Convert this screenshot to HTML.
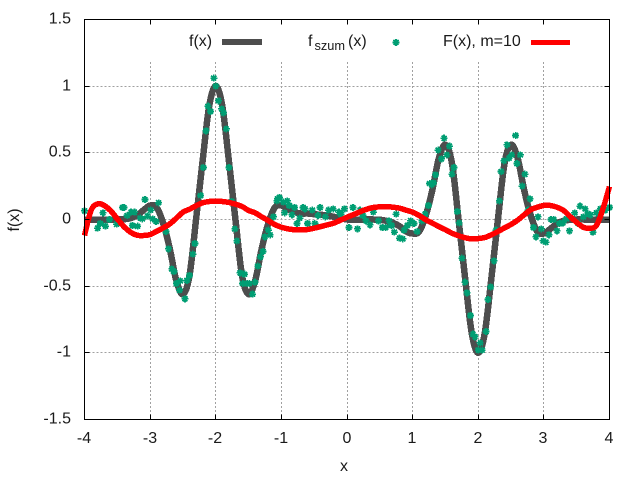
<!DOCTYPE html>
<html>
<head>
<meta charset="utf-8">
<title>f(x) chart</title>
<style>
html,body{margin:0;padding:0;background:#fff;width:640px;height:480px;overflow:hidden}
svg{display:block}
text{font-family:"Liberation Sans",sans-serif;font-size:16px;fill:#1a1a1a}
</style>
</head>
<body>
<svg id="chart" width="640" height="480" viewBox="0 0 640 480" xmlns="http://www.w3.org/2000/svg">
  <rect width="640" height="480" fill="#fff"/>
  <g id="grid"></g>
  <g id="series"></g>
  <g id="frame"></g>
  <g id="labels"></g>
  <text x="344" y="471" text-anchor="middle">x</text>
  <text transform="translate(19,220) rotate(-90)" text-anchor="middle">f(x)</text>
  <g>
    <text x="189" y="46">f(x)</text>
    <rect x="222" y="39" width="40" height="6" fill="#4d4d4d"/>
    <text x="308" y="46">f<tspan dx="2" dy="4" style="font-size:12.8px">szum</tspan><tspan dx="3" dy="-4">(x)</tspan></text>
    <path d="M392.500 42.500h7M396 39v7M393.500 40l5 5M393.500 45l5-5" stroke="#009e73" stroke-width="1.800" fill="none" shape-rendering="crispEdges"/>
    <text x="443" y="46">F(x), m=10</text>
    <rect x="531" y="40" width="39" height="5" fill="#ff0000"/>
  </g>
</svg>
<script>
const gridX = [-4,-3.9,-3.8,-3.7,-3.6,-3.5,-3.4,-3.3,-3.2,-3.1,-3,-2.9,-2.8,-2.7,-2.6,-2.5,-2.4,-2.3,-2.2,-2.1,-2,-1.9,-1.8,-1.7,-1.6,-1.5,-1.4,-1.3,-1.2,-1.1,-1,-0.9,-0.8,-0.7,-0.6,-0.5,-0.4,-0.3,-0.2,-0.1,0,0.1,0.2,0.3,0.4,0.5,0.6,0.7,0.8,0.9,1,1.1,1.2,1.3,1.4,1.5,1.6,1.7,1.8,1.9,2,2.1,2.2,2.3,2.4,2.5,2.6,2.7,2.8,2.9,3,3.1,3.2,3.3,3.4,3.5,3.6,3.7,3.8,3.9,4];
const fValues = [0,0,0,0,0,0,0.002,0.01,0.03,0.07,0.105,0.09,-0.03,-0.22,-0.46,-0.56,-0.42,0,0.44,0.85,1,0.85,0.44,0,-0.42,-0.56,-0.46,-0.22,-0.03,0.09,0.105,0.075,0.055,0.045,0.045,0.04,0.035,0.03,0.02,0.01,0,0,0,0,0,-0.002,-0.01,-0.025,-0.05,-0.09,-0.105,-0.09,0.03,0.22,0.46,0.56,0.42,0,-0.44,-0.85,-1,-0.85,-0.44,0,0.42,0.56,0.46,0.22,0.03,-0.09,-0.105,-0.07,-0.03,-0.01,-0.002,0,0,0,0,0,0];
const fitValues = [-0.12,0.0675,0.117,0.105,0.065,0.005,-0.053,-0.095,-0.118,-0.12,-0.113,-0.088,-0.063,-0.033,0.01,0.055,0.077,0.103,0.125,0.135,0.137,0.135,0.128,0.115,0.098,0.068,0.05,0.02,-0.008,-0.038,-0.058,-0.07,-0.077,-0.077,-0.075,-0.065,-0.053,-0.04,-0.027,-0.005,0.017,0.037,0.058,0.077,0.09,0.095,0.097,0.092,0.085,0.07,0.055,0.03,-0.002,-0.027,-0.053,-0.077,-0.103,-0.122,-0.137,-0.145,-0.143,-0.135,-0.115,-0.09,-0.063,-0.037,-0.005,0.035,0.073,0.092,0.105,0.105,0.092,0.068,0.022,-0.022,-0.058,-0.065,-0.045,0.08,0.247];
const noiseX = [-4,-3.8,-3.76,-3.72,-3.68,-3.62,-3.51,-3.42,-3.4,-3.35,-3.29,-3.27,-3.24,-3.19,-3.15,-3.12,-3.08,-3.04,-2.99,-2.96,-2.91,-2.87,-2.76,-2.72,-2.67,-2.64,-2.6,-2.55,-2.54,-2.47,-2.44,-2.4,-2.35,-2.32,-2.23,-2.19,-2.15,-2.12,-2.08,-2.03,-2,-1.96,-1.91,-1.88,-1.84,-1.8,-1.76,-1.71,-1.68,-1.63,-1.59,-1.56,-1.52,-1.49,-1.44,-1.4,-1.36,-1.32,-1.28,-1.25,-1.2,-1.17,-1.12,-1.07,-1.06,-1.03,-0.97,-0.95,-0.91,-0.88,-0.84,-0.8,-0.76,-0.72,-0.67,-0.64,-0.6,-0.53,-0.49,-0.44,-0.41,-0.33,-0.28,-0.21,-0.12,-0.09,-0.04,0.03,0.09,0.16,0.2,0.24,0.29,0.35,0.4,0.48,0.54,0.59,0.64,0.68,0.72,0.75,0.8,0.85,0.87,0.92,0.97,1.02,1.07,1.14,1.19,1.24,1.26,1.29,1.32,1.35,1.39,1.44,1.48,1.52,1.56,1.6,1.63,1.68,1.71,1.75,1.8,1.83,1.88,1.92,1.95,2,2.03,2.06,2.12,2.15,2.19,2.24,2.27,2.32,2.35,2.39,2.44,2.47,2.51,2.57,2.59,2.64,2.67,2.71,2.76,2.79,2.84,2.88,2.91,2.96,2.99,3.03,3.08,3.11,3.15,3.2,3.24,3.29,3.34,3.39,3.47,3.52,3.55,3.6,3.63,3.67,3.71,3.75,3.8,3.86,3.93,4];
const noiseY = [0.065,-0.065,-0.03,0.05,-0.05,0,-0.035,0.09,0.09,0.03,0.055,-0.045,0.055,-0.05,0.01,0.005,0.15,0.025,0.07,0.005,-0.015,0.125,-0.09,-0.22,-0.37,-0.39,-0.48,-0.53,-0.46,-0.595,-0.457,-0.42,-0.26,-0.18,0.18,0.39,0.665,0.85,0.81,1.06,1,0.89,0.83,0.8,0.68,0.39,0.135,-0.07,-0.16,-0.4,-0.48,-0.41,-0.48,-0.48,-0.56,-0.47,-0.35,-0.28,-0.24,-0.13,-0.08,-0.115,0.02,0.14,0.155,0.165,0.13,0.05,0.14,0.105,0.035,0.09,-0.03,0.01,0.09,0.08,-0.03,0.07,-0.03,0.03,0.09,0.02,0.07,0.08,0.055,0.04,0.08,-0.06,0.09,-0.07,0.07,0.03,-0.01,-0.04,0.055,-0.01,-0.06,-0.06,-0.01,-0.045,-0.095,0.04,-0.14,-0.145,-0.08,-0.045,-0.01,-0.03,-0.09,-0.01,0.04,0.105,0.27,0.26,0.275,0.335,0.52,0.455,0.61,0.485,0.55,0.34,0.39,0.06,-0.025,-0.29,-0.47,-0.55,-0.72,-0.86,-0.88,-0.98,-0.925,-0.98,-0.84,-0.6,-0.505,-0.31,-0.08,0.14,0.36,0.44,0.56,0.46,0.485,0.63,0.42,0.485,0.25,0.34,0.07,0.155,-0.06,-0.13,0.02,-0.07,-0.16,-0.17,-0.115,0,0,-0.085,-0.03,-0.025,0.005,-0.085,0.05,-0.03,0.1,0.02,0.08,0.045,0.035,-0.095,0.05,0.08,0.07,0.09];
const xTicks = [-4,-3,-2,-1,0,1,2,3,4];
const yTicks = [-1.5,-1,-0.5,0,0.5,1,1.5];

const NS = 'http://www.w3.org/2000/svg';
const PLOT = {left:84.5, right:609.5, top:19.5, bottom:419.5};
const KEY_BOTTOM = 62;
const xDomain = [-4,4];
const yDomain = [-1.5,1.5];
function sx(v){ return PLOT.left + (v - xDomain[0]) / (xDomain[1] - xDomain[0]) * (PLOT.right - PLOT.left); }
function sy(v){ return PLOT.bottom - (v - yDomain[0]) / (yDomain[1] - yDomain[0]) * (PLOT.bottom - PLOT.top); }
function mk(tag, parent, attrs){
  const el = document.createElementNS(NS, tag);
  for (const k in attrs) el.setAttribute(k, attrs[k]);
  parent.appendChild(el);
  return el;
}
function splinePath(xs, ys){
  const p = xs.map((x,i)=>[sx(x), sy(ys[i])]);
  let d = 'M' + p[0][0].toFixed(2) + ' ' + p[0][1].toFixed(2);
  for (let i = 0; i < p.length - 1; i++){
    const a = p[Math.max(i-1,0)], b = p[i], c = p[i+1], e = p[Math.min(i+2,p.length-1)];
    const c1x = b[0] + (c[0]-a[0])/6, c1y = b[1] + (c[1]-a[1])/6;
    const c2x = c[0] - (e[0]-b[0])/6, c2y = c[1] - (e[1]-b[1])/6;
    d += 'C' + [c1x,c1y,c2x,c2y,c[0],c[1]].map(n=>n.toFixed(2)).join(' ');
  }
  return d;
}
const grid = document.getElementById('grid');
const frame = document.getElementById('frame');
const labels = document.getElementById('labels');
const series = document.getElementById('series');

xTicks.forEach(function(t){
  const x = Math.round(sx(t) - 0.5) + 0.5;
  if (t > xDomain[0] && t < xDomain[1]) {
    const g = mk('line', grid, {x1:x, x2:x, y1:KEY_BOTTOM, y2:PLOT.bottom, stroke:'#a0a0a0', 'stroke-width':1, 'stroke-dasharray':'2 2', 'shape-rendering':'crispEdges'});
    
    
  }
  const tb = mk('path', frame, {d:'M'+x+' '+PLOT.bottom+'v-5M'+x+' '+PLOT.top+'v5', stroke:'#000', 'stroke-width':1, 'shape-rendering':'crispEdges'});
  
  
  const lb = mk('text', labels, {x:x-0.5, y:443, 'text-anchor':'middle'});
  lb.textContent = String(t);
  
  
});
yTicks.forEach(function(t){
  const y = Math.round(sy(t) - 0.5) + 0.5;
  if (t > yDomain[0] && t < yDomain[1]) {
    const g = mk('line', grid, {x1:PLOT.left, x2:PLOT.right, y1:y, y2:y, stroke:'#a0a0a0', 'stroke-width':1, 'stroke-dasharray':'2 2', 'shape-rendering':'crispEdges'});
    
    
  }
  const tb = mk('path', frame, {d:'M'+PLOT.left+' '+y+'h5M'+PLOT.right+' '+y+'h-5', stroke:'#000', 'stroke-width':1, 'shape-rendering':'crispEdges'});
  
  
  const lb = mk('text', labels, {x:71, y:y+4, 'text-anchor':'end'});
  lb.textContent = String(t);
  
  
});
const border = mk('rect', frame, {x:PLOT.left, y:PLOT.top, width:PLOT.right-PLOT.left, height:PLOT.bottom-PLOT.top, fill:'none', stroke:'#000', 'stroke-width':1, 'shape-rendering':'crispEdges'});



const fLine = mk('path', series, {d:splinePath(gridX, fValues), fill:'none', stroke:'#4d4d4d', 'stroke-width':6.5, 'stroke-linejoin':'round', 'shape-rendering':'crispEdges'});



noiseX.forEach(function(x,i){
  const px = sx(x), py = sy(noiseY[i]);
  const d = 'M'+(px-3.5)+' '+py+'h7M'+px+' '+(py-3.5)+'v7M'+(px-2.5)+' '+(py-2.5)+'l5 5M'+(px-2.5)+' '+(py+2.5)+'l5-5';
  const pt = mk('path', series, {d:d, fill:'none', stroke:'#009e73', 'stroke-width':1.8, 'shape-rendering':'crispEdges'});
  
  
});

const fitLine = mk('path', series, {d:splinePath(gridX, fitValues), fill:'none', stroke:'#ff0000', 'stroke-width':5.5, 'stroke-linejoin':'round', 'shape-rendering':'crispEdges'});


</script>
</body>
</html>
